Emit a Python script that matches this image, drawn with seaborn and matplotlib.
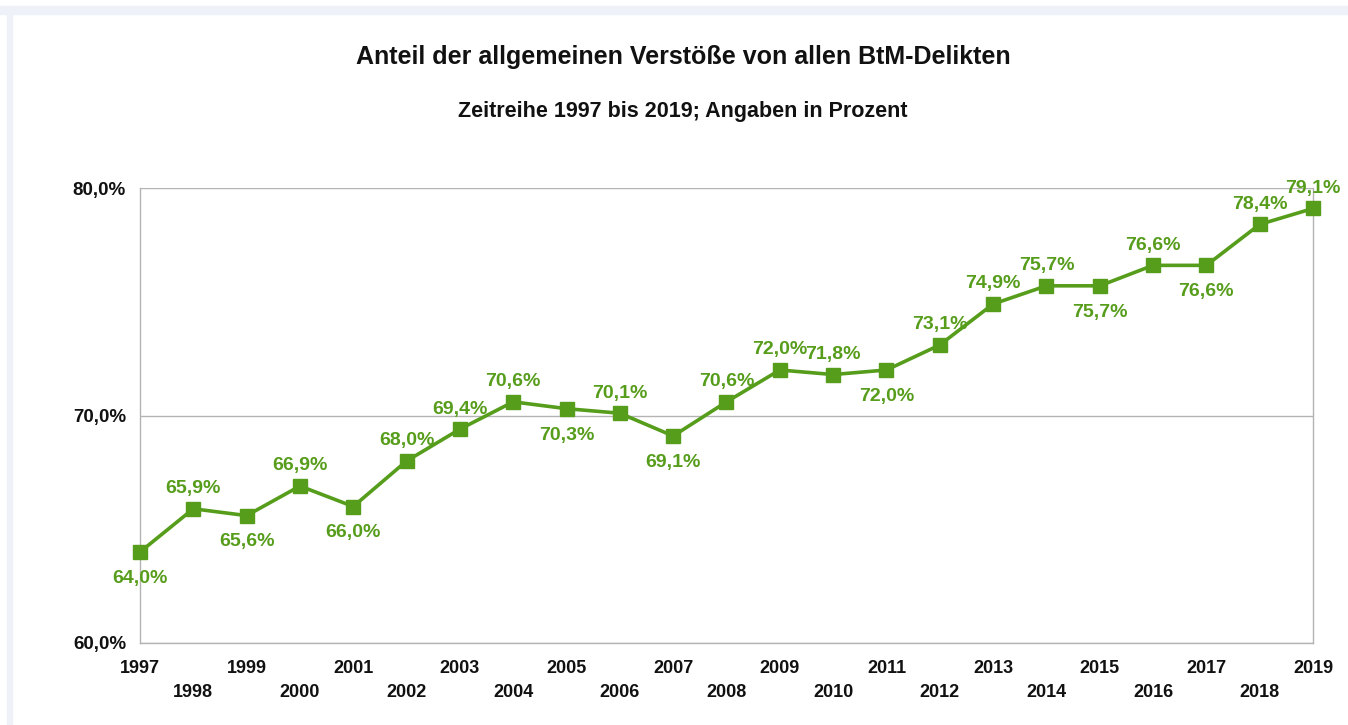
import matplotlib
matplotlib.use("Agg")
import matplotlib.pyplot as plt
from matplotlib.patches import Rectangle
from matplotlib.ticker import FuncFormatter
import seaborn as sns
import pandas as pd

years = list(range(1997, 2020))
shares = [64.0, 65.9, 65.6, 66.9, 66.0, 68.0, 69.4, 70.6, 70.3, 70.1, 69.1,
          70.6, 72.0, 71.8, 72.0, 73.1, 74.9, 75.7, 75.7, 76.6, 76.6, 78.4, 79.1]
# +1: label above the point, -1: label below
label_side = [-1, 1, -1, 1, -1, 1, 1, 1, -1, 1, -1,
              1, 1, 1, -1, 1, 1, 1, -1, 1, -1, 1, 1]
title = "Anteil der allgemeinen Verstöße von allen BtM-Delikten"
subtitle = "Zeitreihe 1997 bis 2019; Angaben in Prozent"

sns.set_theme(style="white")
plt.rcParams["font.family"] = ["Liberation Sans", "DejaVu Sans"]

GREEN = "#579d1c"
GRID = "#b3b3b3"
W, H = 1348, 725

fig = plt.figure(figsize=(W / 100, H / 100), dpi=100)
fig.patch.set_facecolor("white")
# light frame strips along top and left edge
fig.patches.append(Rectangle((0, 1 - 14 / H), 1, 8 / H, transform=fig.transFigure,
                             color="#eef2f8", zorder=0))
fig.patches.append(Rectangle((7 / W, 0), 5 / W, 1 - 6 / H, transform=fig.transFigure,
                             color="#eef2f8", zorder=0))

ax = fig.add_axes([140 / W, 1 - 643 / H, (1313 - 140) / W, (643 - 188) / H])
df = pd.DataFrame({"Jahr": years, "Anteil": shares})
sns.lineplot(data=df, x="Jahr", y="Anteil", ax=ax, color=GREEN, linewidth=2.6,
             marker="s", markersize=9.5, markeredgecolor=GREEN, markeredgewidth=1.0)
for ln in ax.lines:
    ln.set_clip_on(False)
    ln.set_zorder(5)

ax.set_xlim(years[0], years[-1])
ax.set_ylim(60, 80)
ax.set_yticks([60, 70, 80])
ax.yaxis.set_major_formatter(FuncFormatter(lambda v, p: f"{v:.1f}%".replace(".", ",")))
ax.set_xticks(years)
ax.set_xticklabels([str(y) if i % 2 == 0 else "\n" + str(y) for i, y in enumerate(years)],
                   fontweight="bold", fontsize=13, linespacing=1.55)
for t in ax.get_yticklabels():
    t.set_fontweight("bold")
    t.set_fontsize(13.5)
ax.tick_params(axis="both", which="major", length=8, width=1, color=GRID,
               labelcolor="#111111", direction="out")
ax.tick_params(axis="x", pad=4)
ax.tick_params(axis="y", pad=2)
ax.yaxis.grid(True, color=GRID, linewidth=1)
ax.xaxis.grid(False)
for s in ["left", "right", "bottom"]:
    ax.spines[s].set_color(GRID)
    ax.spines[s].set_linewidth(1)
ax.spines["top"].set_visible(False)
ax.set_xlabel("")
ax.set_ylabel("")

for x, y, side in zip(years, shares, label_side):
    dy = 14.5 if side > 0 else -19
    ax.annotate(f"{y:.1f}%".replace(".", ","), (x, y),
                xytext=(0, dy), textcoords="offset points",
                ha="center", va="center", color=GREEN, fontweight="bold",
                fontsize=14, clip_on=False, zorder=6)

fig.text(683 / W, 1 - 57 / H, title, ha="center", va="center",
         fontsize=18, fontweight="bold", color="#111111")
fig.text(683 / W, 1 - 112 / H, subtitle, ha="center", va="center",
         fontsize=15.5, fontweight="bold", color="#111111")

fig.savefig("out.png", dpi=100)
